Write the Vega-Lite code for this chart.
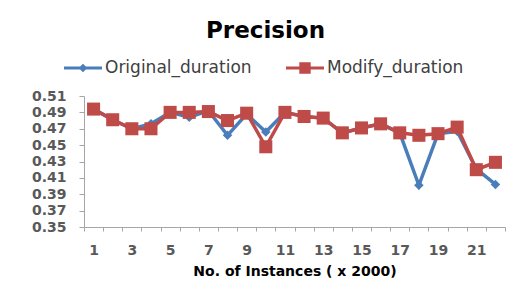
{
  "$schema": "https://vega.github.io/schema/vega-lite/v6.json",
  "autosize": "none",
  "width": 421,
  "height": 131,
  "padding": {"left": 84, "top": 96, "right": 19, "bottom": 70},
  "background": "white",
  "title": {"text": "Precision", "anchor": "middle", "dx": -29, "fontSize": 23, "font": "DejaVu Sans", "fontWeight": "bold", "color": "#000000", "offset": 6},
  "data": {"values": [
    {"x": 1, "series": "Original_duration", "v": 0.494},
    {"x": 2, "series": "Original_duration", "v": 0.481},
    {"x": 3, "series": "Original_duration", "v": 0.470},
    {"x": 4, "series": "Original_duration", "v": 0.476},
    {"x": 5, "series": "Original_duration", "v": 0.490},
    {"x": 6, "series": "Original_duration", "v": 0.484},
    {"x": 7, "series": "Original_duration", "v": 0.492},
    {"x": 8, "series": "Original_duration", "v": 0.462},
    {"x": 9, "series": "Original_duration", "v": 0.488},
    {"x": 10, "series": "Original_duration", "v": 0.466},
    {"x": 11, "series": "Original_duration", "v": 0.490},
    {"x": 12, "series": "Original_duration", "v": 0.485},
    {"x": 13, "series": "Original_duration", "v": 0.483},
    {"x": 14, "series": "Original_duration", "v": 0.465},
    {"x": 15, "series": "Original_duration", "v": 0.471},
    {"x": 16, "series": "Original_duration", "v": 0.476},
    {"x": 17, "series": "Original_duration", "v": 0.465},
    {"x": 18, "series": "Original_duration", "v": 0.401},
    {"x": 19, "series": "Original_duration", "v": 0.464},
    {"x": 20, "series": "Original_duration", "v": 0.467},
    {"x": 21, "series": "Original_duration", "v": 0.421},
    {"x": 22, "series": "Original_duration", "v": 0.402},
    {"x": 1, "series": "Modify_duration", "v": 0.494},
    {"x": 2, "series": "Modify_duration", "v": 0.481},
    {"x": 3, "series": "Modify_duration", "v": 0.470},
    {"x": 4, "series": "Modify_duration", "v": 0.470},
    {"x": 5, "series": "Modify_duration", "v": 0.490},
    {"x": 6, "series": "Modify_duration", "v": 0.490},
    {"x": 7, "series": "Modify_duration", "v": 0.491},
    {"x": 8, "series": "Modify_duration", "v": 0.480},
    {"x": 9, "series": "Modify_duration", "v": 0.489},
    {"x": 10, "series": "Modify_duration", "v": 0.448},
    {"x": 11, "series": "Modify_duration", "v": 0.490},
    {"x": 12, "series": "Modify_duration", "v": 0.485},
    {"x": 13, "series": "Modify_duration", "v": 0.483},
    {"x": 14, "series": "Modify_duration", "v": 0.465},
    {"x": 15, "series": "Modify_duration", "v": 0.471},
    {"x": 16, "series": "Modify_duration", "v": 0.476},
    {"x": 17, "series": "Modify_duration", "v": 0.465},
    {"x": 18, "series": "Modify_duration", "v": 0.462},
    {"x": 19, "series": "Modify_duration", "v": 0.464},
    {"x": 20, "series": "Modify_duration", "v": 0.472},
    {"x": 21, "series": "Modify_duration", "v": 0.420},
    {"x": 22, "series": "Modify_duration", "v": 0.429}
  ]},
  "encoding": {
    "x": {
      "field": "x", "type": "ordinal", "bandPosition": 0.5,
      "scale": {"type": "band", "paddingInner": 0, "paddingOuter": 0},
      "axis": {
        "title": "No. of Instances ( x 2000)",
        "labelAngle": 0,
        "labelExpr": "datum.value % 2 == 1 ? datum.label : ''",
        "tickBand": "extent",
        "tickSize": 4,
        "labelPadding": 12,
        "labelFont": "DejaVu Sans", "labelFontSize": 14, "labelFontWeight": "bold", "labelColor": "#595959",
        "titleFont": "DejaVu Sans", "titleFontSize": 14, "titleFontWeight": "bold", "titleColor": "#000000",
        "titlePadding": 7,
        "domainColor": "#a6a6a6", "tickColor": "#a6a6a6", "grid": false
      }
    },
    "y": {
      "field": "v", "type": "quantitative",
      "scale": {"domain": [0.35, 0.51], "nice": false, "zero": false},
      "axis": {
        "title": null,
        "values": [0.35, 0.37, 0.39, 0.41, 0.43, 0.45, 0.47, 0.49, 0.51],
        "format": ".2f",
        "tickSize": 5,
        "labelPadding": 13,
        "labelFont": "DejaVu Sans", "labelFontSize": 14, "labelFontWeight": "bold", "labelColor": "#595959",
        "domainColor": "#a6a6a6", "tickColor": "#a6a6a6", "grid": false
      }
    },
    "color": {
      "field": "series", "type": "nominal",
      "scale": {"domain": ["Original_duration", "Modify_duration"], "range": ["#4A7EBB", "#BE4B48"]},
      "legend": {
        "title": null,
        "orient": "none",
        "direction": "horizontal",
        "legendX": -20,
        "legendY": -47,
        "symbolSize": 1444,
        "labelFont": "DejaVu Sans", "labelFontSize": 17, "labelColor": "#404040",
        "labelOffset": 3,
        "labelLimit": 300,
        "columnPadding": 34,
        "encode": {
          "symbols": {
            "update": {
              "shape": {"signal": "datum.value == 'Original_duration' ? 'M-1,-0.08H1V0.08H-1Z M0,-0.23L0.23,0L0,0.23L-0.23,0Z' : 'M-1,-0.08H1V0.08H-1Z M-0.3,-0.3H0.3V0.3H-0.3Z'"},
              "fill": {"signal": "datum.value == 'Original_duration' ? '#4A7EBB' : '#BE4B48'"},
              "fillOpacity": {"value": 1},
              "strokeWidth": {"value": 0}
            }
          }
        }
      }
    }
  },
  "layer": [
    {"transform": [{"filter": "datum.series == 'Original_duration'"}], "mark": {"type": "line", "strokeWidth": 3.5}},
    {"transform": [{"filter": "datum.series == 'Original_duration'"}], "mark": {"type": "point", "shape": "diamond", "filled": true, "opacity": 1, "size": 90}},
    {"transform": [{"filter": "datum.series == 'Modify_duration'"}], "mark": {"type": "line", "strokeWidth": 3.5}},
    {"transform": [{"filter": "datum.series == 'Modify_duration'"}], "mark": {"type": "point", "shape": "square", "filled": true, "opacity": 1, "size": 170}}
  ],
  "config": {"view": {"stroke": null}}
}
